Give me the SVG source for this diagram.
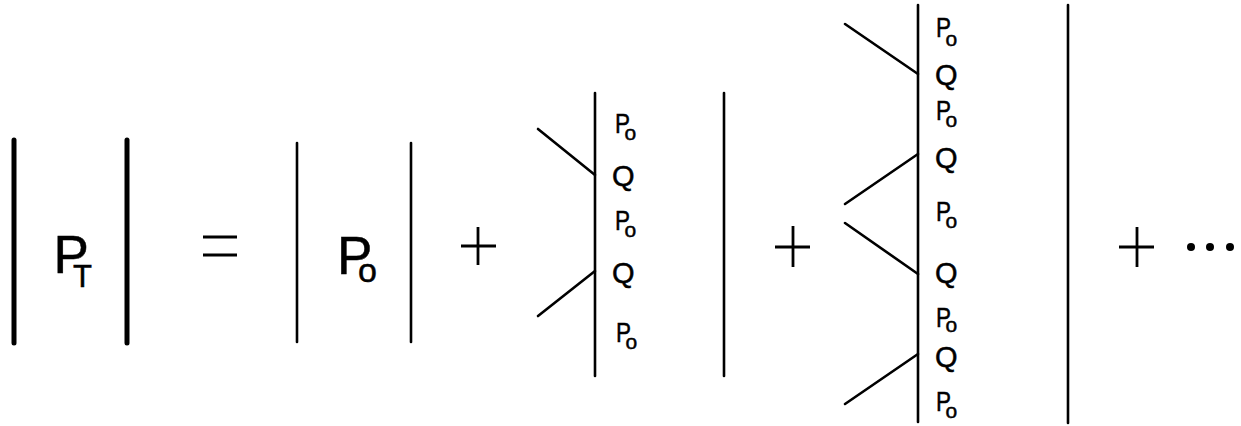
<svg xmlns="http://www.w3.org/2000/svg" width="1241" height="426" viewBox="0 0 1241 426">
  <style>
    .bar-thick { stroke: #000; stroke-width: 5; stroke-linecap: round; fill: none; }
    .bar { stroke: #000; stroke-width: 2.6; stroke-linecap: round; fill: none; }
    .leg { stroke: #000; stroke-width: 2.6; stroke-linecap: round; fill: none; }
    .op { stroke: #000; stroke-width: 2.8; fill: none; }
    .t { font-family: "Liberation Sans", Arial, sans-serif; fill: #000; stroke: #000; stroke-width: 0.5; }
    .p-big { font-size: 53px; }
    .p-sm { font-size: 28px; }
    .o-sm { font-size: 21px; }
    .q { font-size: 29px; }
  </style>

  <!-- |P_T| -->
  <g id="term-pt">
    <line class="bar-thick" x1="14" y1="140" x2="14" y2="343"/>
    <line class="bar-thick" x1="127" y1="140" x2="127" y2="343"/>
    <text class="t p-big" x="53.5" y="273">P<tspan x="73" y="287" font-size="31">T</tspan></text>
  </g>

  <!-- equals -->
  <g id="op-equals">
    <line class="op" x1="203" y1="237" x2="237" y2="237"/>
    <line class="op" x1="203" y1="255" x2="237" y2="255"/>
  </g>

  <!-- |P_o| -->
  <g id="term-p0">
    <line class="bar" x1="297" y1="143" x2="297" y2="342"/>
    <line class="bar" x1="411" y1="143" x2="411" y2="342"/>
    <text class="t p-big" x="337" y="274">P<tspan x="358" y="282" font-size="34">o</tspan></text>
  </g>

  <g id="op-plus-1">
    <line class="op" x1="461" y1="246" x2="496" y2="246"/>
    <line class="op" x1="478" y1="227" x2="478" y2="265"/>
  </g>

  <!-- first-order term: Po Q Po Q Po -->
  <g id="term-1">
    <line class="bar" x1="595" y1="93" x2="595" y2="376"/>
    <line class="bar" x1="724" y1="93" x2="724" y2="376"/>
    <text class="t p-sm" x="615" y="133"><tspan textLength="15" lengthAdjust="spacingAndGlyphs">P</tspan><tspan class="o-sm" x="624.5" y="140">o</tspan></text>
    <text class="t q" x="612" y="186">Q</text>
    <text class="t p-sm" x="615" y="230"><tspan textLength="15" lengthAdjust="spacingAndGlyphs">P</tspan><tspan class="o-sm" x="624.5" y="237">o</tspan></text>
    <text class="t q" x="612" y="283">Q</text>
    <text class="t p-sm" x="616" y="342"><tspan textLength="15" lengthAdjust="spacingAndGlyphs">P</tspan><tspan class="o-sm" x="625.5" y="349">o</tspan></text>
  </g>

  <g id="op-plus-2">
    <line class="op" x1="775" y1="247" x2="810" y2="247"/>
    <line class="op" x1="793" y1="226" x2="793" y2="267"/>
  </g>

  <!-- second-order term: Po Q Po Q Po Q Po Q Po -->
  <g id="term-2">
    <line class="bar" x1="918" y1="5" x2="918" y2="422"/>
    <line class="bar" x1="1068" y1="5" x2="1068" y2="423"/>
    <text class="t p-sm" x="936" y="37"><tspan textLength="15" lengthAdjust="spacingAndGlyphs">P</tspan><tspan class="o-sm" x="945.5" y="46">o</tspan></text>
    <text class="t q" x="935" y="85">Q</text>
    <text class="t p-sm" x="936" y="120"><tspan textLength="15" lengthAdjust="spacingAndGlyphs">P</tspan><tspan class="o-sm" x="945.5" y="127">o</tspan></text>
    <text class="t q" x="935" y="168">Q</text>
    <text class="t p-sm" x="936" y="221"><tspan textLength="15" lengthAdjust="spacingAndGlyphs">P</tspan><tspan class="o-sm" x="945.5" y="228">o</tspan></text>
    <text class="t q" x="935" y="283">Q</text>
    <text class="t p-sm" x="936" y="327"><tspan textLength="15" lengthAdjust="spacingAndGlyphs">P</tspan><tspan class="o-sm" x="945.5" y="332">o</tspan></text>
    <text class="t q" x="935" y="367">Q</text>
    <text class="t p-sm" x="936" y="411"><tspan textLength="15" lengthAdjust="spacingAndGlyphs">P</tspan><tspan class="o-sm" x="945.5" y="418">o</tspan></text>
  </g>

  <g id="op-plus-3">
    <line class="op" x1="1119" y1="247" x2="1154" y2="247"/>
    <line class="op" x1="1137" y1="227" x2="1137" y2="267"/>
  </g>

  <g id="ellipsis">
    <circle cx="1191" cy="247" r="4"/>
    <circle cx="1210" cy="247" r="4"/>
    <circle cx="1230" cy="247" r="4"/>
  </g>

  <!-- Q vertex legs -->
  <g id="connectors">
    <line class="leg" x1="538" y1="129" x2="595" y2="175"/>
    <line class="leg" x1="595" y1="271" x2="538" y2="316"/>
    <line class="leg" x1="845" y1="24" x2="918" y2="74"/>
    <line class="leg" x1="918" y1="154" x2="845" y2="204"/>
    <line class="leg" x1="845" y1="223" x2="918" y2="274"/>
    <line class="leg" x1="918" y1="354" x2="845" y2="404"/>
  </g>
</svg>
